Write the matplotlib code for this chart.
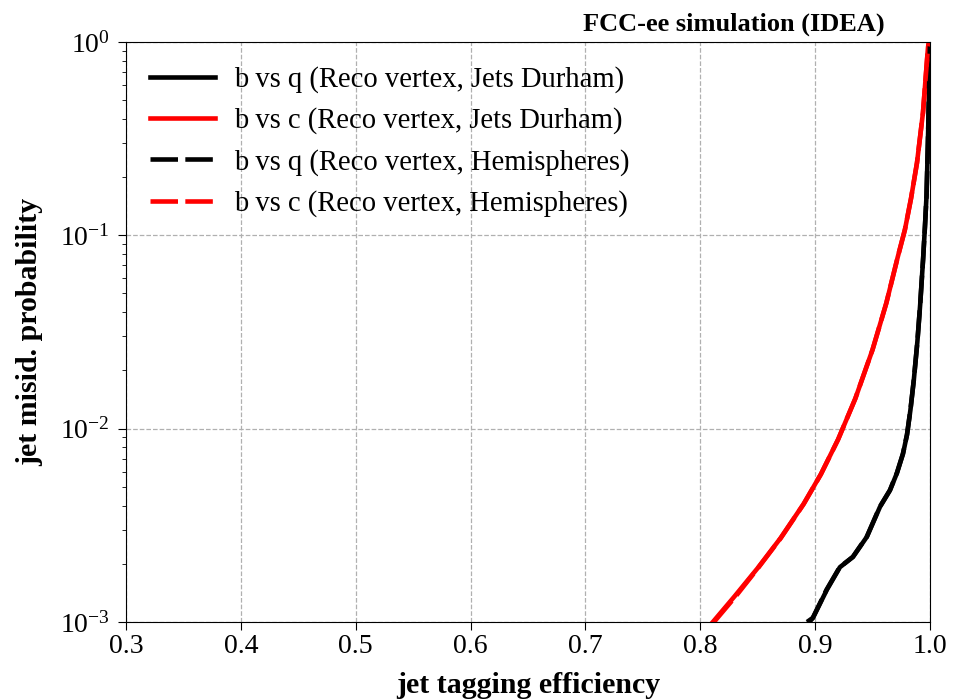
import matplotlib.pyplot as plt

plt.rcParams['font.family'] = ['Liberation Serif', 'DejaVu Serif']
plt.rcParams['mathtext.fontset'] = 'stix'

# b vs c, reco vertex, Durham jets
eff_bc_jets = [0.811, 0.830, 0.850, 0.870, 0.890, 0.905, 0.920, 0.935, 0.950, 0.962,
               0.972, 0.9782, 0.9835, 0.9887, 0.9939, 0.9983, 0.9992]
mis_bc_jets = [1.0e-3, 1.36e-3, 1.90e-3, 2.72e-3, 4.08e-3, 5.81e-3, 8.79e-3, 1.43e-2, 2.56e-2, 4.46e-2,
               7.74e-2, 0.107, 0.155, 0.237, 0.43, 0.94, 1.0]

# b vs q, reco vertex, Durham jets
eff_bq_jets = [0.895, 0.8981, 0.9103, 0.9216, 0.933, 0.9451, 0.9565, 0.9652, 0.9713, 0.9765,
               0.980, 0.983, 0.986, 0.989, 0.9915, 0.994, 0.9956, 0.997, 0.9982, 0.9993, 1.0]
mis_bq_jets = [1.0e-3, 1.05e-3, 1.47e-3, 1.92e-3, 2.17e-3, 2.76e-3, 3.94e-3, 4.8e-3, 5.9e-3, 7.4e-3,
               9.3e-3, 1.25e-2, 1.8e-2, 2.8e-2, 4.4e-2, 7.5e-2, 0.11, 0.16, 0.30, 0.60, 1.0]

# same curves with hemispheres instead of jets
eff_bc_hemi = [0.812, 0.831, 0.850, 0.870, 0.890, 0.905, 0.920, 0.935, 0.950, 0.962,
               0.972, 0.9782, 0.9835, 0.9887, 0.9939, 0.9983, 0.9992]
mis_bc_hemi = [1.0e-3, 1.36e-3, 1.89e-3, 2.71e-3, 4.07e-3, 5.80e-3, 8.78e-3, 1.43e-2, 2.56e-2, 4.46e-2,
               7.74e-2, 0.107, 0.155, 0.237, 0.43, 0.94, 1.0]
eff_bq_hemi = [0.893, 0.8980, 0.9100, 0.9214, 0.9328, 0.9450, 0.9563, 0.9651, 0.9712, 0.9764,
               0.980, 0.983, 0.986, 0.989, 0.9915, 0.994, 0.9956, 0.997, 0.9982, 0.9993, 1.0]
mis_bq_hemi = [1.0e-3, 1.05e-3, 1.47e-3, 1.92e-3, 2.17e-3, 2.76e-3, 3.94e-3, 4.8e-3, 5.9e-3, 7.4e-3,
               9.3e-3, 1.25e-2, 1.8e-2, 2.8e-2, 4.4e-2, 7.5e-2, 0.11, 0.16, 0.30, 0.60, 1.0]

fig = plt.figure(figsize=(9.66, 6.99), dpi=100)
ax = fig.add_axes([0.1304, 0.1102, 0.8323, 0.8298])

lw = 3.3
dash = (0, (6.0, 1.6))
ax.plot(eff_bq_jets, mis_bq_jets, color='black', lw=lw, label='b vs q (Reco vertex, Jets Durham)')
ax.plot(eff_bc_jets, mis_bc_jets, color='red', lw=lw, label='b vs c (Reco vertex, Jets Durham)')
ax.plot(eff_bq_hemi, mis_bq_hemi, color='black', lw=lw, ls=dash,
        label='b vs q (Reco vertex, Hemispheres)')
ax.plot(eff_bc_hemi, mis_bc_hemi, color='red', lw=lw, ls=dash,
        label='b vs c (Reco vertex, Hemispheres)')

ax.set_yscale('log')
ax.set_xlim(0.3, 1.0)
ax.set_ylim(1e-3, 1.0)
ax.set_xticks([0.3, 0.4, 0.5, 0.6, 0.7, 0.8, 0.9, 1.0])
ax.grid(True, which='major', ls='--', color='#b0b0b0', lw=0.9)
ax.tick_params(labelsize=20)
ax.tick_params(which='major', length=5.5)
ax.tick_params(which='minor', length=3)
ax.tick_params(axis='y', which='major', pad=6)

ax.set_xlabel('jet tagging efficiency', fontsize=21.5, fontweight='bold', labelpad=9)
ax.set_ylabel('jet misid. probability', fontsize=21.5, fontweight='bold', labelpad=12)
ax.text(0.943, 1.019, 'FCC-ee simulation (IDEA)', transform=ax.transAxes,
        ha='right', va='baseline', fontsize=19, fontweight='bold')

ax.legend(loc='upper left', frameon=False, fontsize=20.6, handlelength=2.27,
          handletextpad=0.65, labelspacing=0.5, borderaxespad=0.5, borderpad=0.35)

plt.savefig('out.png', dpi=100)
